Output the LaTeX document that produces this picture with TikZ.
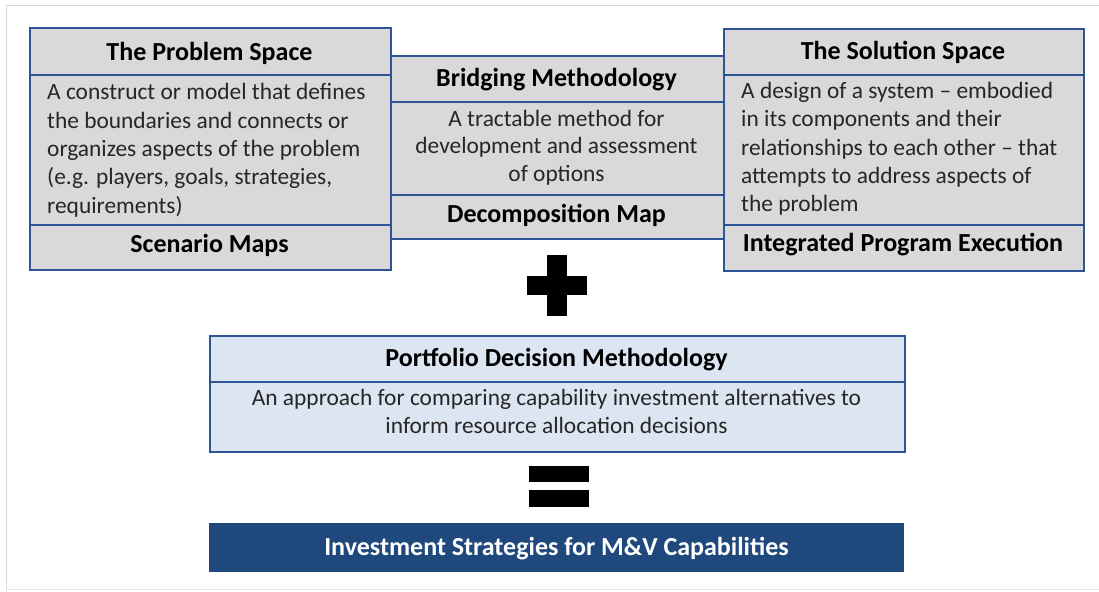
\documentclass[tikz,border=0pt]{standalone}
\usepackage{fontspec}
\setmainfont{Carlito}
\definecolor{edgeblue}{RGB}{47,85,151}
\definecolor{boxgrey}{RGB}{217,217,217}
\definecolor{paleblue}{RGB}{220,230,242}
\definecolor{navy}{RGB}{31,73,125}
\definecolor{inkgrey}{RGB}{38,38,38}
\definecolor{framegrey}{RGB}{215,215,215}
\tikzset{
  cell/.style={draw=edgeblue, line width=1.8pt, fill=boxgrey, inner sep=0pt, anchor=north west},
  pcell/.style={draw=edgeblue, line width=1.8pt, fill=paleblue, inner sep=0pt, anchor=north west},
  headtxt/.style={font=\fontsize{26}{30}\selectfont\bfseries, text=black, inner sep=0pt, anchor=base},
  bodytxt/.style={font=\fontsize{23.4}{28.3}\selectfont, text=inkgrey, inner sep=0pt, anchor=base west},
  midtxt/.style={font=\fontsize{23.4}{27.9}\selectfont, text=inkgrey, inner sep=0pt, anchor=base},
  signbar/.style={fill=black}
}
\begin{document}
\begin{tikzpicture}[x=1pt,y=-1pt]
\useasboundingbox (0,0) rectangle (1099,591);
% outer frame
\draw[framegrey, line width=1pt] (6,591) -- (6,6) -- (1099,6);
\draw[framegrey!60, line width=0.8pt] (6,589) -- (1099,589);

% middle box (behind)
\node[cell, minimum width=333pt, minimum height=46pt] (mtop) at (390,55) {};
\node[cell, minimum width=333pt, minimum height=93pt] (mbody) at (390,101) {};
\node[cell, minimum width=333pt, minimum height=44pt] (mfoot) at (390,194) {};

% left box
\node[cell, minimum width=361pt, minimum height=47pt] (ltop) at (29,27) {};
\node[cell, minimum width=361pt, minimum height=150pt] (lbody) at (29,74) {};
\node[cell, minimum width=361pt, minimum height=45pt] (lfoot) at (29,224) {};

% right box
\node[cell, minimum width=360pt, minimum height=46pt] (rtop) at (723,28) {};
\node[cell, minimum width=360pt, minimum height=150pt] (rbody) at (723,74) {};
\node[cell, minimum width=360pt, minimum height=46pt] (rfoot) at (723,224) {};

% texts left
\node[headtxt] (ltitle) at (209.5,61) {The Problem Space};
\node[bodytxt] (ltext) at (47,100) {\parbox[t]{340pt}{\raggedright A construct or model that defines\\the boundaries and connects or\\organizes aspects of the problem\\(e.g. players, goals, strategies,\\requirements)}};
\node[headtxt] (lmap) at (209.5,252) {Scenario Maps};

% texts middle
\node[headtxt] (mtitle) at (556.5,86.5) {Bridging Methodology};
\node[midtxt] (mtext) at (556.5,126) {\parbox[t]{320pt}{\centering A tractable method for\\development and assessment\\of options}};
\node[headtxt] (mmap) at (556.5,222.5) {Decomposition Map};

% texts right
\node[headtxt] (rtitle) at (903,60) {The Solution Space};
\node[bodytxt] (rtext) at (741,98.5) {\parbox[t]{340pt}{\raggedright A design of a system -- embodied\\in its components and their\\relationships to each other -- that\\attempts to address aspects of\\the problem}};
\node[headtxt] (rmap) at (903,251.5) {Integrated Program Execution};

% plus sign
\fill[signbar] (547,255) rectangle (567,316);
\fill[signbar] (527,276) rectangle (587,295);

% portfolio box
\node[pcell, minimum width=695pt, minimum height=46pt] (ptop) at (209,335) {};
\node[pcell, minimum width=695pt, minimum height=70pt] (pbody) at (209,381) {};
\node[headtxt] (ptitle) at (556.5,366.5) {Portfolio Decision Methodology};
\node[midtxt] (ptext) at (556.5,405.5) {\parbox[t]{680pt}{\centering An approach for comparing capability investment alternatives to\\inform resource allocation decisions}};

% equals sign
\fill[signbar] (529,466) rectangle (589,482);
\fill[signbar] (529,490) rectangle (589,507);

% result box
\node[fill=navy, minimum width=695pt, minimum height=49pt, inner sep=0pt, anchor=north west] (res) at (209,523) {};
\node[headtxt, text=white] (restxt) at (556.5,555) {Investment Strategies for M\&V Capabilities};
\end{tikzpicture}
\end{document}
